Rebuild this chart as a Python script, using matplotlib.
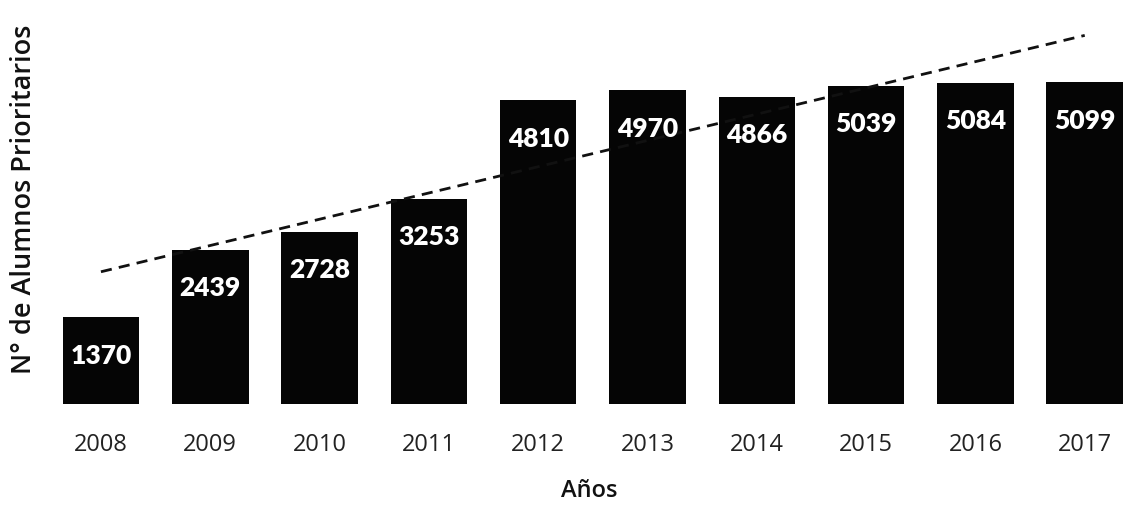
import numpy as np
import matplotlib.pyplot as plt

BAR_COLOR = '#050505'
TEXT_COLOR = '#111111'

years = ['2008', '2009', '2010', '2011', '2012', '2013', '2014', '2015', '2016', '2017']
alumnos = [1370, 2439, 2728, 3253, 4810, 4970, 4866, 5039, 5084, 5099]

x = np.arange(len(years))
vals = np.array(alumnos)

fig = plt.figure(figsize=(11.23, 5.06), dpi=100, facecolor='white')
ax = fig.add_axes([0.049, 0.1996, 0.951, 0.765])
ax.bar(x, vals, width=0.70, color=BAR_COLOR, zorder=2)

# linear trend line (Excel style)
slope, intercept = np.polyfit(x, vals, 1)
ax.plot(x, slope * x + intercept, color='#111111', linestyle=(0, (4, 2.6)),
        linewidth=2.0, zorder=3)

for xi, v in zip(x, vals):
    ax.annotate(str(v), (xi, v), xytext=(0, -27), textcoords='offset points',
                ha='center', va='center', color='white', fontsize=19,
                fontweight='heavy', family='Lato', zorder=4)

ax.set_xlim(-0.42, 9.35)
ax.set_ylim(0, 6130)
ax.set_xticks(x)
ax.set_xticklabels(years, fontsize=17, family='Open Sans', fontweight='normal',
                   color='#222222')
ax.tick_params(axis='x', length=0, pad=20)
ax.set_yticks([])
for spine in ax.spines.values():
    spine.set_visible(False)

ax.set_xlabel('Años', fontsize=17, family='Open Sans', fontweight='semibold',
              color=TEXT_COLOR, labelpad=16)
fig.text(0.021, 0.607, 'N° de Alumnos Prioritarios', rotation=90,
         ha='center', va='center', fontsize=19.5, family='Open Sans',
         fontweight='semibold', color=TEXT_COLOR)

fig.savefig('out.png', dpi=100, facecolor='white')
